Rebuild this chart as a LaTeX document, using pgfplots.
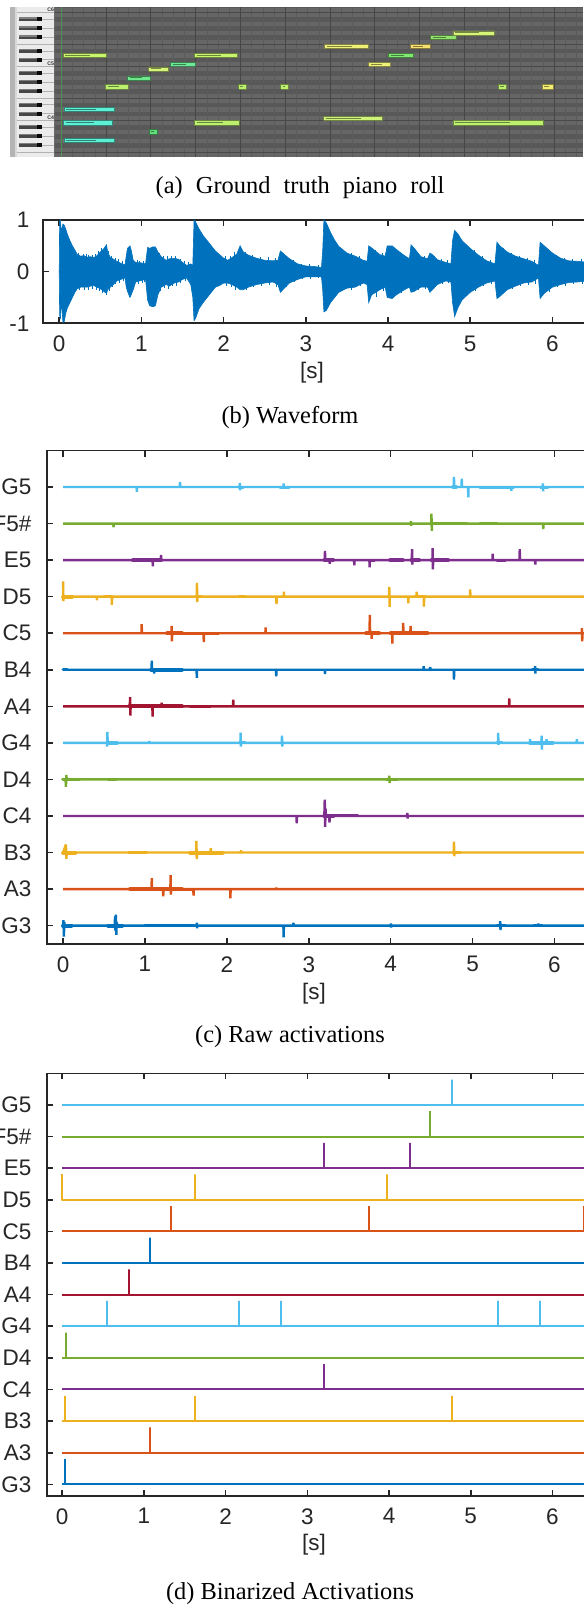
\documentclass[border=0pt]{standalone}
\usepackage{fontspec}
\setmainfont{Liberation Serif}
\setsansfont{Liberation Sans}
\usepackage{pgfplots}
\pgfplotsset{compat=1.18}

\definecolor{m1}{HTML}{0072BD}
\definecolor{m2}{HTML}{D95319}
\definecolor{m3}{HTML}{EDB120}
\definecolor{m4}{HTML}{7E2F8E}
\definecolor{m5}{HTML}{77AC30}
\definecolor{m6}{HTML}{4DBEEE}
\definecolor{m7}{HTML}{A2142F}
\definecolor{axc}{HTML}{262626}
% piano roll colours
\definecolor{rollL}{HTML}{666666}
\definecolor{rollD}{HTML}{585858}
\definecolor{rollB}{HTML}{5B5B5B}
\definecolor{rollBar}{HTML}{464646}
\definecolor{rollH}{HTML}{494949}
\definecolor{gline}{HTML}{4F8F50}
\definecolor{kbBorder}{HTML}{B4B4B4}
\definecolor{kbBorderB}{HTML}{D8D8D8}
\definecolor{kbWhite}{HTML}{EBEBEB}
\definecolor{kbLine}{HTML}{6A6A6A}
\definecolor{kbSep}{HTML}{B2B2B2}
\definecolor{bkBody}{HTML}{474747}
\definecolor{bkHi}{HTML}{7E7E7E}
\definecolor{bkTip}{HTML}{0A0A0A}
\definecolor{nYG}{HTML}{C8F46E}
\definecolor{nG}{HTML}{7EE872}
\definecolor{nMint}{HTML}{6EE896}
\definecolor{nMintB}{HTML}{6EE88A}
\definecolor{nY}{HTML}{EEF07A}
\definecolor{nYB}{HTML}{F4EE72}
\definecolor{nYO}{HTML}{F6E070}
\definecolor{nPY}{HTML}{D6F47A}
\definecolor{nYGB}{HTML}{BEF070}
\definecolor{nYGC}{HTML}{CEF27A}
\definecolor{nGC}{HTML}{92E46E}
\definecolor{nGD}{HTML}{60DC7A}
\definecolor{nC}{HTML}{5EF0D6}

\newcommand{\tfont}{\sffamily\fontsize{11.25}{13}\selectfont}
\newcommand{\cfont}{\rmfamily\fontsize{12.2}{14}\selectfont}
\newcommand{\cfontw}{\rmfamily\fontsize{12.2}{14}\selectfont\spaceskip=6.6pt plus 1pt}

\newcommand{\R}[5]{\addplot[draw=none,fill=#5] coordinates {(#1,#3) (#2,#3) (#2,#4) (#1,#4)};}
\newcommand{\note}[8]{%
\addplot[fill=#5,draw=#5!55!black,line width=0.35pt] coordinates {(#1,#3) (#2,#3) (#2,#4) (#1,#4) (#1,#3)};
\addplot[draw=#5!55!black,line width=0.5pt] coordinates {(#7,#6) (#8,#6)};}
\newcommand{\BK}[3]{\R{-0.5146}{-0.2956}{#1}{#2}{bkBody}\R{-0.5146}{-0.2956}{#3}{#2}{bkHi}\R{-0.2956}{-0.2384}{#1}{#2}{bkTip}}
\newcommand{\HL}[4]{\addplot[draw=#4,line width=0.4pt] coordinates {(#1,#3) (#2,#3)};}
\newcommand{\band}[5]{\addplot[draw=#4,line width=#5pt,line cap=round] coordinates {(#1,#3) (#2,#3)};}

\pgfplotsset{
  mat/.style={scale only axis,
    axis line style={draw=axc,line width=0.8pt},
    tick style={draw=axc,line width=0.8pt},
    tick align=inside, major tick length=3pt,
    xtick pos=both, ytick pos=left, xticklabel pos=lower,
    xtick={0,1,2,3,4,5,6}, xmax=6.6,
    tick label style={font=\tfont,text=axc},
    /pgf/number format/assume math mode=true,
    xticklabel style={yshift=-2.7pt},
    clip=true},
  act/.style={line width=1pt, line join=miter, miter limit=1},
  raw/.style={line width=1.2pt, line join=miter, miter limit=1}
}

\begin{document}
\begin{tikzpicture}

%================ (a) piano roll ================
\begin{axis}[at={(0pt,-3.65pt)},anchor=north west,scale only axis,
  width=291.5pt,height=74.7pt,xmin=-0.7457,xmax=6.3467,ymin=51.47,ymax=84.7,
  hide axis,clip=true]
\R{-0.0706}{6.4}{51.4}{84.8}{rollL}
\R{-0.0706}{6.4}{53.5}{54.5}{rollD}
\R{-0.0706}{6.4}{55.5}{56.5}{rollD}
\R{-0.0706}{6.4}{57.5}{58.5}{rollD}
\R{-0.0706}{6.4}{60.5}{61.5}{rollD}
\R{-0.0706}{6.4}{62.5}{63.5}{rollD}
\R{-0.0706}{6.4}{65.5}{66.5}{rollD}
\R{-0.0706}{6.4}{67.5}{68.5}{rollD}
\R{-0.0706}{6.4}{69.5}{70.5}{rollD}
\R{-0.0706}{6.4}{72.5}{73.5}{rollD}
\R{-0.0706}{6.4}{74.5}{75.5}{rollD}
\R{-0.0706}{6.4}{77.5}{78.5}{rollD}
\R{-0.0706}{6.4}{79.5}{80.5}{rollD}
\R{-0.0706}{6.4}{81.5}{82.5}{rollD}
\R{-0.0706}{6.4}{84.5}{85.0}{rollD}
\addplot[draw=rollB,line width=0.35pt] coordinates {
(0.136,50) (0.136,86) (0.273,86) (0.273,50) (0.409,50) (0.409,86) (0.681,86) (0.681,50)
(0.818,50) (0.818,86) (0.954,86) (0.954,50) (1.226,50) (1.226,86) (1.363,86) (1.363,50)
(1.499,50) (1.499,86) (1.771,86) (1.771,50) (1.908,50) (1.908,86) (2.044,86) (2.044,50)
(2.316,50) (2.316,86) (2.453,86) (2.453,50) (2.589,50) (2.589,86) (2.861,86) (2.861,50)
(2.998,50) (2.998,86) (3.134,86) (3.134,50) (3.406,50) (3.406,86) (3.543,86) (3.543,50)
(3.679,50) (3.679,86) (3.951,86) (3.951,50) (4.088,50) (4.088,86) (4.224,86) (4.224,50)
(4.496,50) (4.496,86) (4.633,86) (4.633,50) (4.769,50) (4.769,86) (5.041,86) (5.041,50)
(5.178,50) (5.178,86) (5.314,86) (5.314,50) (5.586,50) (5.586,86) (5.723,86) (5.723,50)
(5.859,50) (5.859,86) (6.131,86) (6.131,50) (6.268,50) (6.268,86)};
\addplot[draw=rollBar,line width=0.55pt] coordinates {
(0.545,50) (0.545,86) (1.09,86) (1.09,50) (1.635,50) (1.635,86) (2.18,86) (2.18,50)
(2.725,50) (2.725,86) (3.27,86) (3.27,50) (3.815,50) (3.815,86) (4.36,86) (4.36,50)
(4.905,50) (4.905,86) (5.45,86) (5.45,50) (5.995,50) (5.995,86)};
\HL{-0.0706}{6.4}{52.5}{rollH}
\HL{-0.0706}{6.4}{59.5}{rollH}
\HL{-0.0706}{6.4}{64.5}{rollH}
\HL{-0.0706}{6.4}{71.5}{rollH}
\HL{-0.0706}{6.4}{76.5}{rollH}
\HL{-0.0706}{6.4}{83.5}{rollH}
\addplot[draw=gline,line width=0.7pt] coordinates {(0.005,50) (0.005,86)};
\R{-0.624}{-0.562}{51.4}{84.8}{kbBorder}
\R{-0.562}{-0.533}{51.4}{84.8}{kbBorderB}
\R{-0.533}{-0.0888}{51.4}{84.8}{kbWhite}
\R{-0.0888}{-0.0706}{51.4}{84.8}{kbLine}
\HL{-0.533}{-0.0888}{52.5}{kbSep}
\HL{-0.533}{-0.0888}{59.5}{kbSep}
\HL{-0.533}{-0.0888}{64.5}{kbSep}
\HL{-0.533}{-0.0888}{71.5}{kbSep}
\HL{-0.533}{-0.0888}{76.5}{kbSep}
\HL{-0.533}{-0.0888}{83.5}{kbSep}
\HL{-0.2384}{-0.0888}{54}{kbSep}
\HL{-0.2384}{-0.0888}{56}{kbSep}
\HL{-0.2384}{-0.0888}{58}{kbSep}
\HL{-0.2384}{-0.0888}{61}{kbSep}
\HL{-0.2384}{-0.0888}{63}{kbSep}
\HL{-0.2384}{-0.0888}{66}{kbSep}
\HL{-0.2384}{-0.0888}{68}{kbSep}
\HL{-0.2384}{-0.0888}{70}{kbSep}
\HL{-0.2384}{-0.0888}{73}{kbSep}
\HL{-0.2384}{-0.0888}{75}{kbSep}
\HL{-0.2384}{-0.0888}{78}{kbSep}
\HL{-0.2384}{-0.0888}{80}{kbSep}
\HL{-0.2384}{-0.0888}{82}{kbSep}
\BK{53.55}{54.45}{54.2}
\BK{55.55}{56.45}{56.2}
\BK{57.55}{58.45}{58.2}
\BK{60.55}{61.45}{61.2}
\BK{62.55}{63.45}{63.2}
\BK{65.55}{66.45}{66.2}
\BK{67.55}{68.45}{68.2}
\BK{69.55}{70.45}{70.2}
\BK{72.55}{73.45}{73.2}
\BK{74.55}{75.45}{75.2}
\BK{77.55}{78.45}{78.2}
\BK{79.55}{80.45}{80.2}
\BK{81.55}{82.45}{82.2}
\node[font=\sffamily\bfseries\fontsize{2.6}{3}\selectfont,text=black!80] at (axis cs:-0.128,84.15) {C6};
\node[font=\sffamily\bfseries\fontsize{2.6}{3}\selectfont,text=black!80] at (axis cs:-0.128,72.15) {C5};
\node[font=\sffamily\bfseries\fontsize{2.6}{3}\selectfont,text=black!80] at (axis cs:-0.128,60.15) {C4};
\note{0.023}{0.547}{73.55}{74.45}{nYG}{74}{0.05}{0.353}
\note{1.62}{2.14}{73.55}{74.45}{nYG}{74}{1.65}{1.948}
\note{3.98}{4.28}{73.55}{74.45}{nG}{74}{4.01}{4.169}
\note{1.326}{1.63}{71.55}{72.45}{nMint}{72}{1.356}{1.518}
\note{3.74}{4.0}{71.55}{72.45}{nY}{72}{3.77}{3.904}
\note{1.063}{1.30}{70.55}{71.45}{nPY}{71}{1.093}{1.212}
\note{0.805}{1.086}{68.55}{69.45}{nMintB}{69}{0.835}{0.982}
\note{0.534}{0.81}{66.55}{67.45}{nYGB}{67}{0.564}{0.708}
\note{2.158}{2.25}{66.55}{67.45}{nYGB}{67}{2.18}{2.216}
\note{2.67}{2.76}{66.55}{67.45}{nYGB}{67}{2.692}{2.727}
\note{5.32}{5.42}{66.55}{67.45}{nYGB}{67}{5.342}{5.383}
\note{5.85}{5.99}{66.55}{67.45}{nYB}{67}{5.875}{5.938}
\note{3.20}{3.73}{75.55}{76.45}{nY}{76}{3.23}{3.534}
\note{4.25}{4.49}{75.55}{76.45}{nYO}{76}{4.28}{4.401}
\note{4.49}{4.80}{77.55}{78.45}{nGC}{78}{4.52}{4.685}
\note{4.765}{5.27}{78.55}{79.45}{nPY}{79}{4.795}{5.083}
\note{0.032}{0.647}{61.55}{62.45}{nC}{62}{0.062}{0.419}
\note{3.19}{3.91}{59.55}{60.45}{nYGC}{60}{3.22}{3.644}
\note{0.023}{0.62}{58.55}{59.45}{nC}{59}{0.053}{0.399}
\note{1.62}{2.17}{58.55}{59.45}{nYGB}{59}{1.65}{1.967}
\note{4.765}{5.86}{58.55}{59.45}{nYGB}{59}{4.795}{5.455}
\note{1.072}{1.163}{56.55}{57.45}{nGD}{57}{1.094}{1.129}
\note{0.032}{0.647}{54.55}{55.45}{nC}{55}{0.062}{0.419}
\end{axis}

%================ (b) waveform ================
\begin{axis}[mat,at={(21.4pt,-110pt)},anchor=north west,
  width=279.48pt,height=51.65pt,xmin=-0.2,ymin=-1,ymax=1,
  ytick={-1,0,1},yticklabels={-1,0,1},yticklabel style={xshift=-3.2pt}]
\addplot[fill=m1,draw=m1,line width=0.3pt] coordinates {
(0,0) (0.005,0.98) (0.015,1.0) (0.025,0.75) (0.035,0.85) (0.045,0.92) (0.06,0.9) (0.08,0.82)
(0.1,0.72) (0.13,0.6) (0.16,0.5) (0.19,0.42) (0.22,0.33) (0.26,0.3) (0.3,0.31) (0.34,0.28)
(0.38,0.29) (0.42,0.27) (0.46,0.31) (0.5,0.38) (0.54,0.44) (0.575,0.52) (0.59,0.37) (0.62,0.28)
(0.66,0.24) (0.7,0.2) (0.75,0.16) (0.8,0.13) (0.815,0.3) (0.83,0.45) (0.86,0.5) (0.875,0.42)
(0.9,0.22) (0.93,0.18) (1.0,0.17) (1.05,0.15) (1.075,0.47) (1.1,0.45) (1.14,0.48) (1.17,0.48)
(1.2,0.38) (1.24,0.29) (1.3,0.22) (1.34,0.25) (1.4,0.26) (1.45,0.24) (1.5,0.18) (1.55,0.12)
(1.6,0.15) (1.625,0.12) (1.64,1.0) (1.66,0.96) (1.7,0.83) (1.75,0.7) (1.8,0.6) (1.85,0.5)
(1.9,0.4) (1.95,0.33) (2.0,0.26) (2.05,0.22) (2.1,0.27) (2.16,0.34) (2.2,0.5) (2.24,0.38)
(2.3,0.32) (2.4,0.26) (2.5,0.22) (2.6,0.21) (2.66,0.22) (2.69,0.4) (2.72,0.36) (2.8,0.25)
(2.9,0.15) (3.0,0.11) (3.1,0.1) (3.19,0.08) (3.205,0.4) (3.22,1.0) (3.25,0.94) (3.3,0.76)
(3.35,0.61) (3.4,0.49) (3.5,0.36) (3.6,0.3) (3.7,0.22) (3.745,0.2) (3.765,0.5) (3.8,0.46)
(3.9,0.33) (3.965,0.3) (3.99,0.5) (4.05,0.5) (4.1,0.43) (4.2,0.31) (4.26,0.25) (4.28,0.52)
(4.32,0.45) (4.4,0.29) (4.48,0.25) (4.51,0.36) (4.54,0.33) (4.6,0.23) (4.7,0.18) (4.765,0.15)
(4.785,0.6) (4.81,0.8) (4.85,0.73) (4.9,0.6) (5.0,0.45) (5.1,0.32) (5.2,0.21) (5.3,0.15)
(5.325,0.57) (5.36,0.5) (5.45,0.38) (5.55,0.3) (5.65,0.25) (5.75,0.2) (5.83,0.12) (5.85,0.57)
(5.9,0.5) (6.0,0.36) (6.1,0.26) (6.2,0.21) (6.3,0.2) (6.45,0.18)
(6.45,-0.18) (6.3,-0.2) (6.2,-0.21) (6.1,-0.25) (6.0,-0.3) (5.9,-0.42) (5.85,-0.52) (5.83,-0.12)
(5.75,-0.2) (5.65,-0.22) (5.55,-0.28) (5.45,-0.35) (5.36,-0.48) (5.325,-0.52) (5.3,-0.18) (5.2,-0.22)
(5.1,-0.3) (5.0,-0.4) (4.9,-0.55) (4.85,-0.7) (4.81,-0.87) (4.785,-0.6) (4.765,-0.2) (4.7,-0.18)
(4.6,-0.25) (4.54,-0.35) (4.51,-0.4) (4.48,-0.3) (4.4,-0.3) (4.32,-0.38) (4.28,-0.4) (4.26,-0.3)
(4.2,-0.35) (4.1,-0.45) (4.05,-0.52) (3.99,-0.5) (3.965,-0.3) (3.9,-0.35) (3.8,-0.45) (3.765,-0.6)
(3.745,-0.25) (3.7,-0.22) (3.6,-0.3) (3.5,-0.32) (3.4,-0.4) (3.35,-0.5) (3.3,-0.6) (3.25,-0.75)
(3.22,-0.78) (3.205,-0.35) (3.19,-0.1) (3.1,-0.1) (3.0,-0.1) (2.9,-0.15) (2.8,-0.22) (2.72,-0.35)
(2.69,-0.4) (2.66,-0.25) (2.6,-0.2) (2.5,-0.22) (2.4,-0.25) (2.3,-0.3) (2.24,-0.35) (2.2,-0.35)
(2.16,-0.3) (2.1,-0.25) (2.05,-0.22) (2.0,-0.22) (1.95,-0.27) (1.9,-0.3) (1.85,-0.4) (1.8,-0.5)
(1.75,-0.6) (1.7,-0.72) (1.66,-0.9) (1.64,-0.95) (1.625,-0.5) (1.6,-0.25) (1.55,-0.12) (1.5,-0.15)
(1.45,-0.2) (1.4,-0.22) (1.34,-0.28) (1.3,-0.25) (1.24,-0.3) (1.2,-0.45) (1.17,-0.66) (1.14,-0.68)
(1.1,-0.66) (1.075,-0.55) (1.05,-0.15) (1.0,-0.17) (0.93,-0.2) (0.9,-0.35) (0.875,-0.45) (0.86,-0.5)
(0.83,-0.38) (0.815,-0.3) (0.8,-0.12) (0.75,-0.15) (0.7,-0.18) (0.66,-0.25) (0.62,-0.3) (0.59,-0.35)
(0.575,-0.42) (0.54,-0.38) (0.5,-0.33) (0.46,-0.3) (0.42,-0.27) (0.38,-0.28) (0.34,-0.3) (0.3,-0.3)
(0.26,-0.3) (0.22,-0.33) (0.19,-0.4) (0.16,-0.5) (0.13,-0.6) (0.1,-0.7) (0.08,-0.8) (0.06,-0.97)
(0.045,-0.98) (0.035,-0.75) (0.025,-0.6) (0.015,-0.9) (0.005,-0.85) (0,0)};
% ragged edge spikes
\addplot[ycomb,draw=m1,line width=0.5pt] coordinates {
(0.24,0.36) (0.29,0.35) (0.33,0.34) (0.36,0.33) (0.41,0.32) (0.44,0.34) (0.48,0.4) (0.52,0.45)
(0.6,0.4) (0.64,0.3) (0.68,0.27) (0.72,0.24) (0.77,0.2) (0.95,0.22) (0.98,0.21) (1.02,0.2)
(1.22,0.36) (1.27,0.3) (1.32,0.3) (1.37,0.3) (1.42,0.3) (1.47,0.25) (1.52,0.2) (1.57,0.18)
(2.02,0.3) (2.08,0.3) (2.13,0.38) (2.27,0.38) (2.35,0.32) (2.45,0.28) (2.55,0.28) (2.63,0.26)
(2.76,0.3) (2.85,0.22) (2.95,0.15) (3.05,0.15) (3.15,0.12) (3.55,0.36) (3.65,0.3) (3.85,0.42)
(3.93,0.36) (4.15,0.38) (4.36,0.36) (4.44,0.3) (4.57,0.3) (4.65,0.24) (4.72,0.22) (5.05,0.42)
(5.15,0.3) (5.25,0.22) (5.4,0.45) (5.5,0.36) (5.6,0.3) (5.7,0.26) (5.78,0.22) (5.95,0.44)
(6.05,0.33) (6.15,0.26) (6.25,0.25) (6.35,0.24)};
\addplot[ycomb,draw=m1,line width=0.5pt] coordinates {
(0.25,-0.36) (0.31,-0.35) (0.35,-0.36) (0.4,-0.33) (0.45,-0.35) (0.49,-0.37) (0.53,-0.42) (0.57,-0.46)
(0.61,-0.38) (0.65,-0.3) (0.69,-0.24) (0.73,-0.22) (0.78,-0.19) (0.96,-0.23) (1.01,-0.22) (1.04,-0.2)
(1.23,-0.38) (1.28,-0.32) (1.33,-0.33) (1.38,-0.28) (1.43,-0.27) (1.48,-0.22) (1.53,-0.19) (1.58,-0.17)
(2.03,-0.28) (2.09,-0.3) (2.14,-0.36) (2.28,-0.36) (2.36,-0.3) (2.46,-0.28) (2.56,-0.26) (2.64,-0.3)
(2.77,-0.3) (2.86,-0.2) (2.96,-0.14) (3.06,-0.14) (3.16,-0.13) (3.56,-0.36) (3.66,-0.28) (3.86,-0.5)
(3.94,-0.38) (4.16,-0.42) (4.37,-0.36) (4.45,-0.34) (4.58,-0.3) (4.66,-0.24) (4.73,-0.22) (5.06,-0.38)
(5.16,-0.28) (5.26,-0.24) (5.41,-0.42) (5.51,-0.33) (5.61,-0.28) (5.71,-0.25) (5.79,-0.24) (5.96,-0.4)
(6.06,-0.3) (6.16,-0.27) (6.26,-0.24) (6.36,-0.23)};
\end{axis}

%================ (c) raw activations ================
\begin{axis}[mat,at={(23.35pt,-225.25pt)},anchor=north west,
  width=278.46pt,height=246.7pt,xmin=-0.2,ymin=0.5,ymax=14,
  ytick={1,2,3,4,5,6,7,8,9,10,11,12,13},
  yticklabels={G3,A3,B3,C4,D4,G4,A4,B4,C5,D5,E5,F5\#,G5},
  yticklabel style={xshift=-4.1pt}]
% G3
\addplot[raw,m1] coordinates {(0,1) (0.005,1.15) (0.01,0.7) (0.015,1.1) (0.02,1) (0.63,1) (0.635,1.25) (0.64,0.85) (0.645,1.3) (0.65,0.75) (0.655,1.1) (0.66,1)
(1.63,1) (1.633,1.08) (1.636,0.93) (1.64,1) (2.69,1) (2.693,0.68) (2.696,1) (2.81,1) (2.813,1.08) (2.816,1)
(4.0,1) (4.003,1.06) (4.006,0.95) (4.01,1) (5.335,1) (5.338,1.12) (5.341,0.88) (5.344,1) (5.8,1) (5.803,1.06) (5.806,1) (6.6,1)};
\band{0}{0.1}{1}{m1}{2.1}\band{0.55}{0.72}{1}{m1}{2.1}\band{1.0}{1.6}{1}{m1}{1.5}\band{5.3}{5.4}{1}{m1}{1.8}\band{5.75}{5.85}{1}{m1}{1.5}
% A3
\addplot[raw,m2] coordinates {(0,2) (1.08,2) (1.083,2.3) (1.086,2) (1.22,2) (1.223,1.8) (1.226,2) (1.31,2) (1.313,2.38) (1.316,1.85) (1.32,2)
(1.59,2) (1.593,1.82) (1.596,2) (2.04,2) (2.043,1.75) (2.046,2) (2.6,2) (2.603,2.04) (2.606,2) (6.6,2)};
\band{0.82}{1.45}{2}{m2}{2.1}\band{1.45}{1.6}{2}{m2}{1.5}
% B3
\addplot[raw,m3] coordinates {(0,3) (0.035,3.22) (0.04,2.83) (0.045,3) (1.625,3) (1.628,3.32) (1.632,2.82) (1.636,3) (1.8,3) (1.803,3.12) (1.806,3)
(2.17,3) (2.173,3.06) (2.176,3) (4.77,3) (4.773,3.3) (4.776,2.9) (4.78,3) (6.6,3)};
\band{0}{0.15}{3}{m3}{2.0}\band{0.8}{1.02}{3}{m3}{1.5}\band{1.55}{1.95}{3}{m3}{2.0}\band{4.76}{4.85}{3}{m3}{1.7}
% C4
\addplot[raw,m4] coordinates {(0,4) (2.85,4) (2.853,3.8) (2.856,4) (3.19,4) (3.195,4.45) (3.2,3.7) (3.205,4.2) (3.21,4) (3.25,4) (3.253,3.82) (3.256,4)
(4.2,4) (4.203,4.08) (4.206,3.93) (4.21,4) (6.6,4)};
\band{3.19}{3.3}{4}{m4}{2.1}\band{3.3}{3.6}{4}{m4}{1.5}
% D4
\addplot[raw,m5] coordinates {(0,5) (0.03,5) (0.035,4.8) (0.04,5.12) (0.045,5) (3.98,5) (3.983,5.1) (3.986,4.9) (3.99,5) (6.6,5)};
\band{0}{0.2}{5}{m5}{1.9}\band{3.95}{4.08}{5}{m5}{1.7}\band{0.55}{0.65}{5}{m5}{1.4}
% G4
\addplot[raw,m6] coordinates {(0,6) (0.535,6) (0.538,5.9) (0.541,6.3) (0.545,6) (1.05,6) (1.053,6.05) (1.056,6) (2.165,6) (2.168,6.28) (2.171,5.9) (2.175,6)
(2.67,6) (2.673,6.2) (2.676,5.9) (2.68,6) (5.31,6) (5.313,6.27) (5.316,5.95) (5.32,6) (5.7,6) (5.703,6.1) (5.706,6)
(5.84,6) (5.843,6.2) (5.846,5.82) (5.85,6) (5.9,6) (5.903,6.1) (5.906,6) (6.27,6) (6.273,6.1) (6.276,6) (6.6,6)};
\band{0.54}{0.66}{6}{m6}{1.7}\band{2.16}{2.22}{6}{m6}{1.5}\band{5.3}{5.36}{6}{m6}{1.5}\band{5.7}{5.98}{6}{m6}{1.7}
% A4
\addplot[raw,m7] coordinates {(0,7) (0.815,7) (0.818,7.25) (0.821,6.75) (0.825,7) (1.09,7) (1.093,6.72) (1.096,7) (1.2,7) (1.203,7.1) (1.206,7)
(2.075,7) (2.078,7.18) (2.081,7) (5.445,7) (5.448,7.22) (5.451,7) (6.6,7)};
\band{0.81}{1.45}{7}{m7}{2.1}\band{1.55}{1.8}{7}{m7}{1.5}
% B4
\addplot[raw,m1] coordinates {(0,8) (1.08,8) (1.083,8.25) (1.086,8) (1.11,8) (1.113,7.9) (1.116,8) (1.63,8) (1.633,7.78) (1.636,8) (2.6,8) (2.603,7.82) (2.606,8)
(3.195,8) (3.198,7.88) (3.201,8) (4.4,8) (4.403,8.1) (4.406,8) (4.48,8) (4.483,8.08) (4.486,8) (4.77,8) (4.773,7.73) (4.776,8)
(5.76,8) (5.763,8.1) (5.766,7.9) (5.77,8) (6.6,8)};
\band{1.075}{1.45}{8}{m1}{2.0}\band{5.73}{5.8}{8}{m1}{1.7}\band{0}{0.05}{8}{m1}{1.5}
% C5
\addplot[raw,m2] coordinates {(0,9) (0.957,9) (0.96,9.25) (0.963,9) (1.323,9) (1.326,9.2) (1.329,8.78) (1.332,9) (1.715,9) (1.718,8.76) (1.721,9)
(2.47,9) (2.473,9.16) (2.476,9) (3.742,9) (3.745,9.5) (3.749,9) (3.765,9) (3.768,8.85) (3.771,9) (4.017,9) (4.02,8.72) (4.023,9)
(4.15,9) (4.153,9.28) (4.156,9) (4.24,9) (4.243,9.2) (4.246,9) (6.333,9) (6.336,9.14) (6.339,8.78) (6.342,9) (6.6,9)};
\band{1.27}{1.45}{9}{m2}{2.0}\band{1.45}{1.9}{9}{m2}{1.5}\band{3.7}{3.86}{9}{m2}{1.9}\band{4.0}{4.45}{9}{m2}{1.9}
% D5
\addplot[raw,m3] coordinates {(0,10.42) (0.004,9.88) (0.008,10) (0.41,10) (0.413,9.9) (0.416,10) (0.593,10) (0.596,9.78) (0.599,10)
(1.632,10) (1.635,10.38) (1.638,9.85) (1.642,10) (2.603,10) (2.606,9.8) (2.609,10) (2.693,10) (2.696,10.14) (2.699,10)
(3.98,10) (3.983,10.27) (3.987,9.72) (3.99,10) (4.213,10) (4.216,9.82) (4.219,10) (4.315,10) (4.318,10.14) (4.321,10)
(4.403,10) (4.406,9.73) (4.409,10) (4.968,10) (4.971,10.2) (4.974,10) (6.6,10)};
\band{0}{0.11}{10}{m3}{2.0}\band{0.5}{0.6}{10}{m3}{1.5}\band{1.63}{1.69}{10}{m3}{1.7}\band{2.15}{2.22}{10}{m3}{1.7}\band{4.3}{4.42}{10}{m3}{1.7}
% E5
\addplot[raw,m4] coordinates {(0,11) (1.093,11) (1.096,10.83) (1.099,11) (1.193,11) (1.196,11.14) (1.199,11) (3.195,11) (3.198,11.25) (3.201,11)
(3.253,11) (3.256,10.9) (3.259,11) (3.553,11) (3.556,10.86) (3.559,11) (3.74,11) (3.743,10.8) (3.746,11)
(4.258,11) (4.261,11.3) (4.264,10.88) (4.267,11) (4.51,11) (4.513,11.33) (4.516,10.75) (4.519,11) (5.243,11) (5.246,11.18) (5.249,11)
(5.573,11) (5.576,11.3) (5.579,11) (5.763,11) (5.766,10.88) (5.769,11) (6.6,11)};
\band{0.85}{1.2}{11}{m4}{1.7}\band{3.19}{3.3}{11}{m4}{1.7}\band{3.73}{3.8}{11}{m4}{1.5}\band{3.99}{4.15}{11}{m4}{1.7}\band{4.25}{4.35}{11}{m4}{1.7}\band{4.5}{4.7}{11}{m4}{2.0}\band{5.3}{5.4}{11}{m4}{1.5}
% F5#
\addplot[raw,m5] coordinates {(0,12) (0.613,12) (0.616,11.9) (0.619,12) (4.245,12) (4.248,12.07) (4.251,11.94) (4.254,12)
(4.495,12) (4.498,12.27) (4.502,11.8) (4.505,12) (5.86,12) (5.863,11.85) (5.866,12) (6.6,12)};
\band{4.49}{4.93}{12}{m5}{1.8}\band{5.09}{5.3}{12}{m5}{1.5}
% G5
\addplot[raw,m6] coordinates {(0,13) (0.898,13) (0.901,12.87) (0.904,13) (1.425,13) (1.428,13.14) (1.431,13) (2.155,13) (2.158,13.11) (2.161,12.91) (2.164,13)
(2.69,13) (2.693,13.1) (2.696,13) (4.77,13) (4.773,13.28) (4.776,13) (4.865,13) (4.868,13.23) (4.871,13) (4.945,13) (4.948,12.72) (4.951,13)
(5.47,13) (5.473,12.9) (5.476,13) (5.855,13) (5.858,13.1) (5.861,12.88) (5.864,13) (6.6,13)};
\band{2.15}{2.2}{13}{m6}{1.5}\band{2.65}{2.76}{13}{m6}{1.5}\band{4.76}{4.8}{13}{m6}{1.7}\band{5.09}{5.5}{13}{m6}{1.5}\band{5.83}{5.92}{13}{m6}{1.5}
\end{axis}

%================ (d) binarized activations ================
\begin{axis}[mat,at={(23.35pt,-536.65pt)},anchor=north west,
  width=277.37pt,height=211.35pt,xmin=-0.19,ymin=0.63,ymax=14,
  ytick={1,2,3,4,5,6,7,8,9,10,11,12,13},
  yticklabels={G3,A3,B3,C4,D4,G4,A4,B4,C5,D5,E5,F5\#,G5},
  yticklabel style={xshift=-4.1pt}]
\addplot[act,m1] coordinates {(0,1) (0.03,1) (0.03,1.8) (0.03,1) (6.6,1)};
\addplot[act,m2] coordinates {(0,2) (1.08,2) (1.08,2.8) (1.08,2) (6.6,2)};
\addplot[act,m3] coordinates {(0,3) (0.03,3) (0.03,3.8) (0.03,3) (1.62,3) (1.62,3.8) (1.62,3) (4.77,3) (4.77,3.8) (4.77,3) (6.6,3)};
\addplot[act,m4] coordinates {(0,4) (3.2,4) (3.2,4.8) (3.2,4) (6.6,4)};
\addplot[act,m5] coordinates {(0,5) (0.043,5) (0.043,5.8) (0.043,5) (6.6,5)};
\addplot[act,m6] coordinates {(0,6) (0.55,6) (0.55,6.8) (0.55,6) (2.167,6) (2.167,6.8) (2.167,6) (2.68,6) (2.68,6.8) (2.68,6) (5.33,6) (5.33,6.8) (5.33,6) (5.85,6) (5.85,6.8) (5.85,6) (6.6,6)};
\addplot[act,m7] coordinates {(0,7) (0.816,7) (0.816,7.8) (0.816,7) (6.6,7)};
\addplot[act,m1] coordinates {(0,8) (1.077,8) (1.077,8.8) (1.077,8) (6.6,8)};
\addplot[act,m2] coordinates {(0,9) (1.334,9) (1.334,9.8) (1.334,9) (3.76,9) (3.76,9.8) (3.76,9) (6.385,9) (6.385,9.8) (6.385,9) (6.6,9)};
\addplot[act,m3] coordinates {(0,10.8) (0,10) (1.63,10) (1.63,10.8) (1.63,10) (3.98,10) (3.98,10.8) (3.98,10) (6.6,10)};
\addplot[act,m4] coordinates {(0,11) (3.2,11) (3.2,11.8) (3.2,11) (4.26,11) (4.26,11.8) (4.26,11) (6.6,11)};
\addplot[act,m5] coordinates {(0,12) (4.5,12) (4.5,12.8) (4.5,12) (6.6,12)};
\addplot[act,m6] coordinates {(0,13) (4.774,13) (4.774,13.8) (4.774,13) (6.6,13)};
\end{axis}

%================ captions and axis labels ================
\node[font=\cfontw] at (150pt,-94pt) {(a) Ground truth piano roll};
\node[font=\tfont,text=axc] at (156pt,-186.5pt) {[s]};
\node[font=\cfont] at (145pt,-209pt) {(b) Waveform};
\node[font=\tfont,text=axc] at (157pt,-497pt) {[s]};
\node[font=\cfont] at (145pt,-518.5pt) {(c) Raw activations};
\node[font=\tfont,text=axc] at (157pt,-772.5pt) {[s]};
\node[font=\cfont] at (145pt,-797pt) {(d) Binarized Activations};

\pgfresetboundingbox
\useasboundingbox (0pt,0pt) rectangle (291.5pt,-802pt);
\end{tikzpicture}
\end{document}
